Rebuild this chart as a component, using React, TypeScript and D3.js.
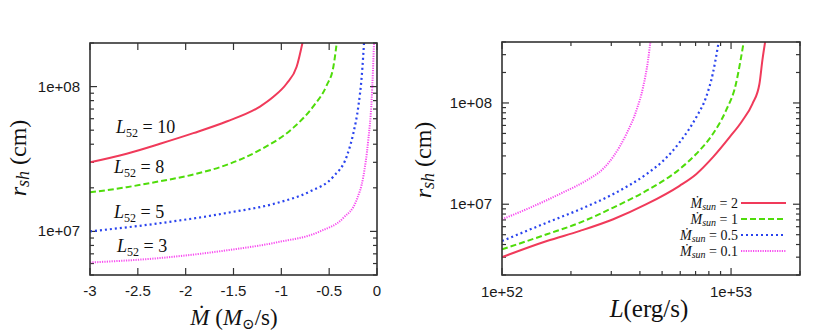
import React from "react";
import * as d3 from "d3";

// left panel: r_sh vs Mdot for several L52
const mdotTicks = [-3, -2.5, -2, -1.5, -1, -0.5, 0];
const curveL10: [number, number][] = [
  [-3, 3.0e7], [-2.617, 3.44e7], [-2.268, 4.03e7], [-1.92, 4.77e7], [-1.572, 5.74e7],
  [-1.223, 7.28e7], [-1.083, 8.5e7], [-0.944, 1.05e8], [-0.84, 1.37e8], [-0.76, 2.3e8],
];
const curveL8: [number, number][] = [
  [-3, 1.86e7], [-2.617, 2.02e7], [-2.268, 2.22e7], [-1.92, 2.47e7], [-1.572, 2.88e7],
  [-1.223, 3.65e7], [-0.875, 5.2e7], [-0.666, 7.3e7], [-0.526, 1.02e8], [-0.456, 1.37e8],
  [-0.41, 2.3e8],
];
const curveL5: [number, number][] = [
  [-3, 1.0e7], [-2.268, 1.14e7], [-1.572, 1.34e7], [-1.049, 1.57e7], [-0.7, 1.89e7],
  [-0.456, 2.39e7], [-0.317, 3.29e7], [-0.247, 4.77e7], [-0.195, 7.3e7], [-0.16, 1.17e8],
  [-0.13, 2.3e8],
];
const curveL3: [number, number][] = [
  [-3, 6.1e6], [-2.268, 6.55e6], [-1.572, 7.4e6], [-1.049, 8.4e6], [-0.596, 1.0e7],
  [-0.352, 1.24e7], [-0.213, 1.65e7], [-0.143, 2.39e7], [-0.091, 4.29e7], [-0.056, 8.1e7],
  [-0.028, 2.3e8],
];
const leftLabels = ["10", "8", "5", "3"];

// right panel: r_sh vs L for several Mdot_sun
const curveM2: [number, number][] = [
  [1e52, 3.0e6], [1.57e52, 4.33e6], [2.19e52, 5.45e6], [3.06e52, 7.1e6], [4.27e52, 1.0e7],
  [5.96e52, 1.52e7], [7.04e52, 1.98e7], [8.32e52, 2.9e7], [9.84e52, 4.57e7], [1.12e53, 6.68e7],
  [1.24e53, 9.8e7], [1.33e53, 1.54e8], [1.37e53, 2.63e8], [1.42e53, 4.5e8],
];
const curveM1: [number, number][] = [
  [1e52, 3.58e6], [1.57e52, 5.05e6], [2.19e52, 6.58e6], [3.06e52, 9.27e6], [4.27e52, 1.36e7],
  [5.96e52, 2.22e7], [7.04e52, 3.13e7], [8.32e52, 4.93e7], [9.5e52, 8.4e7], [1.05e53, 1.54e8],
  [1.10e53, 2.63e8], [1.145e53, 4.5e8],
];
const curveM05: [number, number][] = [
  [1e52, 4.33e6], [1.57e52, 6.58e6], [2.19e52, 8.9e6], [3.06e52, 1.26e7], [4.27e52, 1.98e7],
  [5.05e52, 2.68e7], [5.96e52, 4.08e7], [7.04e52, 7.2e7], [7.78e52, 1.14e8], [8.32e52, 1.94e8],
  [8.75e52, 3.56e8], [8.9e52, 4.5e8],
];
const curveM01: [number, number][] = [
  [1e52, 7.1e6], [1.33e52, 9.27e6], [1.85e52, 1.31e7], [2.34e52, 1.72e7], [2.77e52, 2.25e7],
  [3.06e52, 2.95e7], [3.49e52, 4.93e7], [3.86e52, 8.4e7], [4.13e52, 1.43e8], [4.34e52, 2.63e8],
  [4.47e52, 4.5e8],
];
const legendLabels = ["2", "1", "0.5", "0.1"];

const colors = ["#f03a5a", "#4fdc0a", "#2a44ee", "#f84cf0"];
const dashes = ["none", "6,3", "2,3", "1.2,1.2"];
const widths = [2, 2, 2.2, 2];

const serif = "'Liberation Serif', 'DejaVu Serif', serif";
const sans = "'Liberation Sans', Arial, sans-serif";

function expLabel(v: number) {
  const e = Math.round(Math.log10(v));
  return `1e+${String(e).padStart(2, "0")}`;
}

function logTicks(lo: number, hi: number) {
  const out: { v: number; major: boolean }[] = [];
  for (let e = Math.floor(Math.log10(lo)); e <= Math.ceil(Math.log10(hi)); e++) {
    for (let m = 1; m < 10; m++) {
      const v = m * Math.pow(10, e);
      if (v >= lo * 0.999 && v <= hi * 1.001) out.push({ v, major: m === 1 });
    }
  }
  return out;
}

function Frame({ x0, x1, y0, y1 }: { x0: number; x1: number; y0: number; y1: number }) {
  return (
    <rect x={x0} y={y0} width={x1 - x0} height={y1 - y0} fill="none" stroke="#333" strokeWidth={1.6} />
  );
}

function RLabel({ cx, cy }: { cx: number; cy: number }) {
  return (
    <text
      transform={`translate(${cx},${cy}) rotate(-90)`}
      textAnchor="middle"
      fontFamily={serif}
      fontSize={24}
      fill="#111"
    >
      <tspan fontStyle="italic">r</tspan>
      <tspan fontStyle="italic" fontSize={18} dy={3}>sh</tspan>
      <tspan dy={-3}>{"   (cm)"}</tspan>
    </text>
  );
}

export default function App() {
  // left panel
  const L = { x0: 90, x1: 377, y0: 43, y1: 275 };
  const xl = d3.scaleLinear().domain([-3, 0]).range([L.x0, L.x1]);
  const yl = d3.scaleLog().domain([5e6, 2e8]).range([L.y1, L.y0]);
  const lineL = d3
    .line<[number, number]>()
    .x((d) => xl(d[0]))
    .y((d) => yl(d[1]))
    .curve(d3.curveMonotoneX);
  const leftCurves = [curveL10, curveL8, curveL5, curveL3];
  const leftLabelPos = [
    [116, 133],
    [114, 173],
    [114, 218],
    [117, 252],
  ];

  // right panel
  const R = { x0: 502, x1: 800, y0: 42, y1: 275 };
  const xr = d3.scaleLog().domain([1e52, 2e53]).range([R.x0, R.x1]);
  const yr = d3.scaleLog().domain([2e6, 4e8]).range([R.y1, R.y0]);
  const lineR = d3
    .line<[number, number]>()
    .x((d) => xr(d[0]))
    .y((d) => yr(d[1]))
    .curve(d3.curveMonotoneX);
  const rightCurves = [curveM2, curveM1, curveM05, curveM01];
  const legendY = [203, 219, 235, 251];

  const major = 7;
  const minor = 4;

  return (
    <svg
      width={830}
      height={334}
      style={{ position: "absolute", left: 0, top: 0, background: "#fff" }}
    >
      <defs>
        <clipPath id="clipL">
          <rect x={L.x0} y={L.y0} width={L.x1 - L.x0} height={L.y1 - L.y0} />
        </clipPath>
        <clipPath id="clipR">
          <rect x={R.x0} y={R.y0} width={R.x1 - R.x0} height={R.y1 - R.y0} />
        </clipPath>
      </defs>

      {/* ---------- left panel ---------- */}
      <g stroke="#333" strokeWidth={1.2}>
        {mdotTicks.map((t) => (
          <g key={t}>
            <line x1={xl(t)} x2={xl(t)} y1={L.y1} y2={L.y1 - major} />
            <line x1={xl(t)} x2={xl(t)} y1={L.y0} y2={L.y0 + major} />
          </g>
        ))}
        {logTicks(5e6, 2e8).map((t) => (
          <g key={t.v}>
            <line x1={L.x0} x2={L.x0 + (t.major ? major : minor)} y1={yl(t.v)} y2={yl(t.v)} />
            <line x1={L.x1} x2={L.x1 - (t.major ? major : minor)} y1={yl(t.v)} y2={yl(t.v)} />
          </g>
        ))}
      </g>
      <g fontFamily={sans} fontSize={15} fill="#1a1a1a">
        {mdotTicks.map((t) => (
          <text key={t} x={xl(t)} y={296} textAnchor="middle">
            {t === 0 ? "0" : String(t)}
          </text>
        ))}
        {logTicks(5e6, 2e8)
          .filter((t) => t.major)
          .map((t) => (
            <text key={t.v} x={L.x0 - 10} y={yl(t.v) + 5} textAnchor="end">
              {expLabel(t.v)}
            </text>
          ))}
      </g>
      <g clipPath="url(#clipL)" fill="none">
        {leftCurves.map((c, i) => (
          <path
            key={i}
            d={lineL(c) || ""}
            stroke={colors[i]}
            strokeWidth={widths[i]}
            strokeDasharray={dashes[i]}
          />
        ))}
      </g>
      <Frame {...L} />
      {leftLabels.map((lab, i) => (
        <text
          key={lab}
          x={leftLabelPos[i][0]}
          y={leftLabelPos[i][1]}
          fontFamily={serif}
          fontSize={18}
          fill="#111"
        >
          <tspan fontStyle="italic">L</tspan>
          <tspan fontSize={12} dy={4}>52</tspan>
          <tspan dy={-4}>{` = ${lab}`}</tspan>
        </text>
      ))}
      <RLabel cx={26} cy={158} />
      <text x={234} y={325} textAnchor="middle" fontFamily={serif} fontSize={23} fill="#111">
        <tspan fontStyle="italic">Ṁ</tspan>
        <tspan>{"  ("}</tspan>
        <tspan fontStyle="italic">M</tspan>
        <tspan fontSize={15} dy={4}>⊙</tspan>
        <tspan dy={-4}>/s)</tspan>
      </text>

      {/* ---------- right panel ---------- */}
      <g stroke="#333" strokeWidth={1.2}>
        {logTicks(1e52, 2e53).map((t) => (
          <g key={t.v}>
            <line x1={xr(t.v)} x2={xr(t.v)} y1={R.y1} y2={R.y1 - (t.major ? major : minor)} />
            <line x1={xr(t.v)} x2={xr(t.v)} y1={R.y0} y2={R.y0 + (t.major ? major : minor)} />
          </g>
        ))}
        {logTicks(2e6, 4e8).map((t) => (
          <g key={t.v}>
            <line x1={R.x0} x2={R.x0 + (t.major ? major : minor)} y1={yr(t.v)} y2={yr(t.v)} />
            <line x1={R.x1} x2={R.x1 - (t.major ? major : minor)} y1={yr(t.v)} y2={yr(t.v)} />
          </g>
        ))}
      </g>
      <g fontFamily={sans} fontSize={15} fill="#1a1a1a">
        {logTicks(1e52, 2e53)
          .filter((t) => t.major)
          .map((t) => (
            <text key={t.v} x={xr(t.v)} y={297} textAnchor="middle">
              {expLabel(t.v)}
            </text>
          ))}
        {logTicks(2e6, 4e8)
          .filter((t) => t.major)
          .map((t) => (
            <text key={t.v} x={R.x0 - 10} y={yr(t.v) + 5} textAnchor="end">
              {expLabel(t.v)}
            </text>
          ))}
      </g>
      <g clipPath="url(#clipR)" fill="none">
        {rightCurves.map((c, i) => (
          <path
            key={i}
            d={lineR(c) || ""}
            stroke={colors[i]}
            strokeWidth={widths[i]}
            strokeDasharray={dashes[i]}
          />
        ))}
      </g>
      <Frame {...R} />
      {legendLabels.map((lab, i) => (
        <g key={lab}>
          <text
            x={738}
            y={legendY[i] + 5}
            textAnchor="end"
            fontFamily={serif}
            fontSize={14}
            fill="#111"
          >
            <tspan fontStyle="italic">Ṁ</tspan>
            <tspan fontStyle="italic" fontSize={10} dy={2}>sun</tspan>
            <tspan dy={-2}>{` = ${lab}`}</tspan>
          </text>
          <line
            x1={741}
            x2={786}
            y1={legendY[i]}
            y2={legendY[i]}
            stroke={colors[i]}
            strokeWidth={widths[i]}
            strokeDasharray={dashes[i]}
          />
        </g>
      ))}
      <RLabel cx={431} cy={160} />
      <text x={649} y={317} textAnchor="middle" fontFamily={serif} fontSize={25} fill="#111">
        <tspan fontStyle="italic">L</tspan>
        <tspan>(erg/s)</tspan>
      </text>
    </svg>
  );
}
